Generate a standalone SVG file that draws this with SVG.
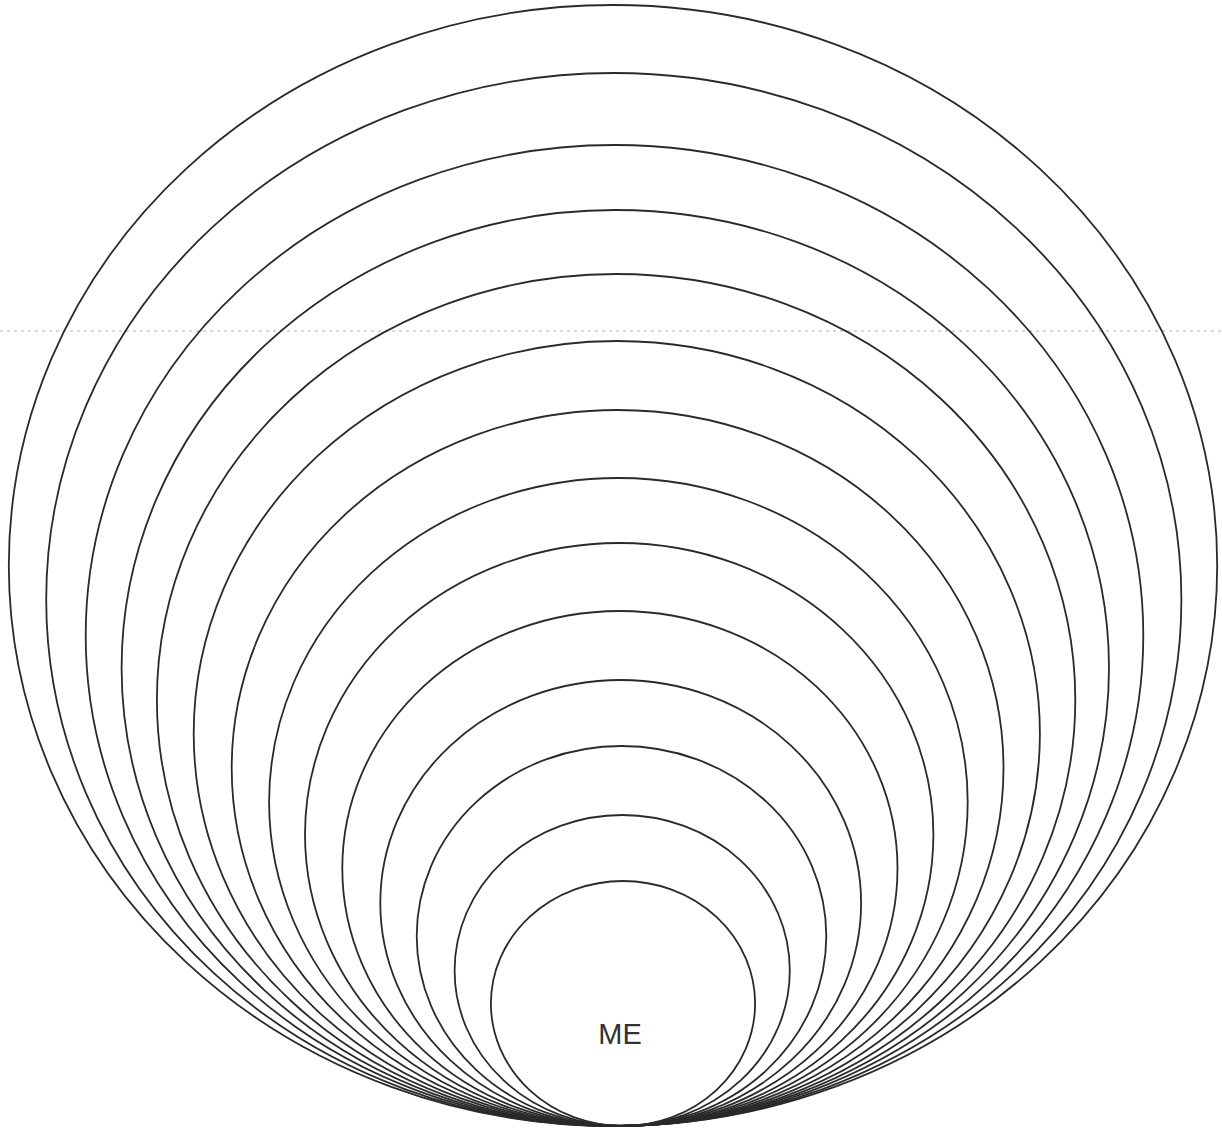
<svg xmlns="http://www.w3.org/2000/svg" width="1222" height="1129" viewBox="0 0 1222 1129">
  <style>
    .ring { fill: none; stroke: #2a2a2a; stroke-width: 1.8; }
    .label { font-family: "Liberation Sans", Arial, sans-serif; font-size: 29px; fill: #333; text-anchor: middle; }
    .scan { stroke: #a0a0a0; stroke-width: 0.8; stroke-dasharray: 3 4; fill: none; }
  </style>
  <rect x="0" y="0" width="1222" height="1129" fill="#ffffff"/>
  <line class="scan" x1="0" y1="331" x2="1222" y2="331"/>
  <g id="ring-1"><ellipse class="ring" cx="613" cy="565.5" rx="604.2" ry="560.5"/></g>
  <g id="ring-2"><ellipse class="ring" cx="613.8" cy="599.5" rx="567.6" ry="526.5"/></g>
  <g id="ring-3"><ellipse class="ring" cx="614.5" cy="635.5" rx="528.8" ry="490.5"/></g>
  <g id="ring-4"><ellipse class="ring" cx="615.3" cy="668" rx="493.7" ry="458"/></g>
  <g id="ring-5"><ellipse class="ring" cx="616.1" cy="700" rx="459.2" ry="426"/></g>
  <g id="ring-6"><ellipse class="ring" cx="616.8" cy="733.5" rx="423.1" ry="392.5"/></g>
  <g id="ring-7"><ellipse class="ring" cx="617.6" cy="768" rx="385.9" ry="358"/></g>
  <g id="ring-8"><ellipse class="ring" cx="618.4" cy="802" rx="349.3" ry="324"/></g>
  <g id="ring-9"><ellipse class="ring" cx="619.2" cy="834.5" rx="314.2" ry="291.5"/></g>
  <g id="ring-10"><ellipse class="ring" cx="619.9" cy="868.5" rx="277.6" ry="257.5"/></g>
  <g id="ring-11"><ellipse class="ring" cx="620.7" cy="903" rx="240.4" ry="223"/></g>
  <g id="ring-12"><ellipse class="ring" cx="621.5" cy="936" rx="204.8" ry="190"/></g>
  <g id="ring-13"><ellipse class="ring" cx="622.2" cy="970.5" rx="167.6" ry="155.5"/></g>
  <g id="me"><ellipse class="ring" cx="623" cy="1003.5" rx="132.1" ry="122.5"/>
    <text class="label" x="620" y="1044">ME</text></g>
  <g id="connectors"></g>
</svg>
